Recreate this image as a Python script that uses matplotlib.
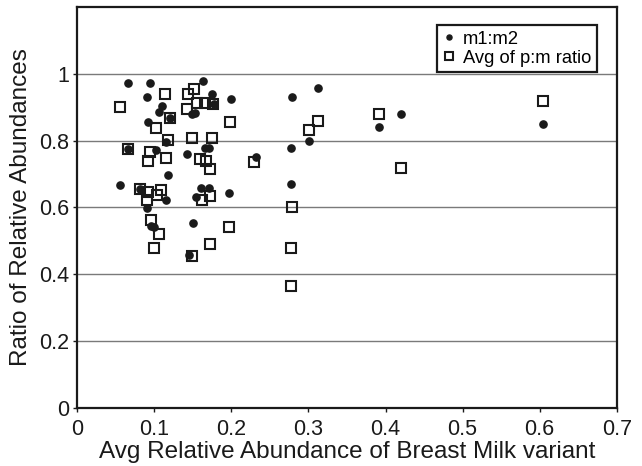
import matplotlib
matplotlib.use("Agg")
import matplotlib.pyplot as plt

plt.rcParams['font.family'] = ['Liberation Sans', 'DejaVu Sans']

# m1:m2 (filled circles)
m_x = [0.066, 0.094, 0.163, 0.090, 0.110, 0.106, 0.175, 0.177, 0.199, 0.149,
       0.153, 0.092, 0.115, 0.102, 0.143, 0.166, 0.171, 0.232, 0.118, 0.056,
       0.160, 0.171, 0.197, 0.115, 0.154, 0.090, 0.096, 0.099, 0.150, 0.145,
       0.066, 0.120, 0.081, 0.279, 0.312, 0.391, 0.420, 0.301, 0.277, 0.277,
       0.604]
m_y = [0.974, 0.974, 0.979, 0.931, 0.904, 0.887, 0.939, 0.909, 0.926, 0.880,
       0.884, 0.857, 0.795, 0.772, 0.760, 0.778, 0.778, 0.752, 0.696, 0.666,
       0.658, 0.658, 0.644, 0.623, 0.631, 0.599, 0.546, 0.541, 0.554, 0.459,
       0.775, 0.868, 0.656, 0.932, 0.957, 0.840, 0.880, 0.800, 0.778, 0.671,
       0.850]

# Avg of p:m ratio (open squares)
p_x = [0.056, 0.114, 0.151, 0.144, 0.155, 0.166, 0.176, 0.143, 0.120, 0.198,
       0.102, 0.118, 0.149, 0.175, 0.066, 0.094, 0.092, 0.115, 0.159, 0.167,
       0.172, 0.229, 0.081, 0.092, 0.108, 0.104, 0.091, 0.162, 0.172, 0.095,
       0.106, 0.197, 0.100, 0.172, 0.149, 0.312, 0.301, 0.391, 0.420, 0.279,
       0.277, 0.277, 0.604]
p_y = [0.901, 0.939, 0.956, 0.939, 0.914, 0.914, 0.911, 0.896, 0.868, 0.855,
       0.837, 0.802, 0.807, 0.807, 0.775, 0.765, 0.740, 0.747, 0.745, 0.739,
       0.716, 0.735, 0.656, 0.646, 0.653, 0.636, 0.621, 0.621, 0.633, 0.563,
       0.521, 0.541, 0.479, 0.492, 0.454, 0.860, 0.833, 0.880, 0.718, 0.601,
       0.480, 0.364, 0.919]

x_ticks = [0, 0.1, 0.2, 0.3, 0.4, 0.5, 0.6, 0.7]
y_ticks = [0, 0.2, 0.4, 0.6, 0.8, 1]

fig = plt.figure(figsize=(6.42, 4.66), dpi=100)
ax = fig.add_axes([0.1204, 0.1245, 0.8402, 0.8605])

ax.plot(m_x, m_y, 'o', color='#1a1a1a', markersize=5.2, linestyle='none',
        label='m1:m2', zorder=3)
ax.plot(p_x, p_y, 's', markerfacecolor='none', markeredgecolor='#1a1a1a',
        markeredgewidth=1.5, markersize=7.5, linestyle='none',
        label='Avg of p:m ratio', zorder=3)

ax.set_xlim(0, 0.7)
ax.set_ylim(0, 1.2)
ax.set_xticks(x_ticks)
ax.set_xticklabels(['0', '0.1', '0.2', '0.3', '0.4', '0.5', '0.6', '0.7'])
ax.set_yticks(y_ticks)
ax.set_yticklabels(['0', '0.2', '0.4', '0.6', '0.8', '1'])
ax.yaxis.grid(True, color='#7a7a7a', linewidth=1.0)
ax.set_axisbelow(True)

for s in ax.spines.values():
    s.set_linewidth(1.6)
    s.set_color('#1a1a1a')

ax.tick_params(axis='both', labelsize=15.5, length=3, width=1, colors='#1a1a1a',
               direction='out')
ax.tick_params(axis='x', pad=5)
ax.tick_params(axis='y', pad=3)

ax.set_xlabel('Avg Relative Abundance of Breast Milk variant', fontsize=17.5,
              color='#1a1a1a', labelpad=1)
ax.set_ylabel('Ratio of Relative Abundances', fontsize=17.5, color='#1a1a1a',
              labelpad=5)

leg = ax.legend(loc='upper right', bbox_to_anchor=(0.9635, 0.955),
                borderaxespad=0, fontsize=13.2, fancybox=False,
                edgecolor='#1a1a1a', framealpha=1, handlelength=0.7,
                handletextpad=0.4, borderpad=0.3, labelspacing=0.12,
                markerscale=0.7)
leg.get_frame().set_linewidth(1.6)

fig.savefig('out.png', dpi=100)
